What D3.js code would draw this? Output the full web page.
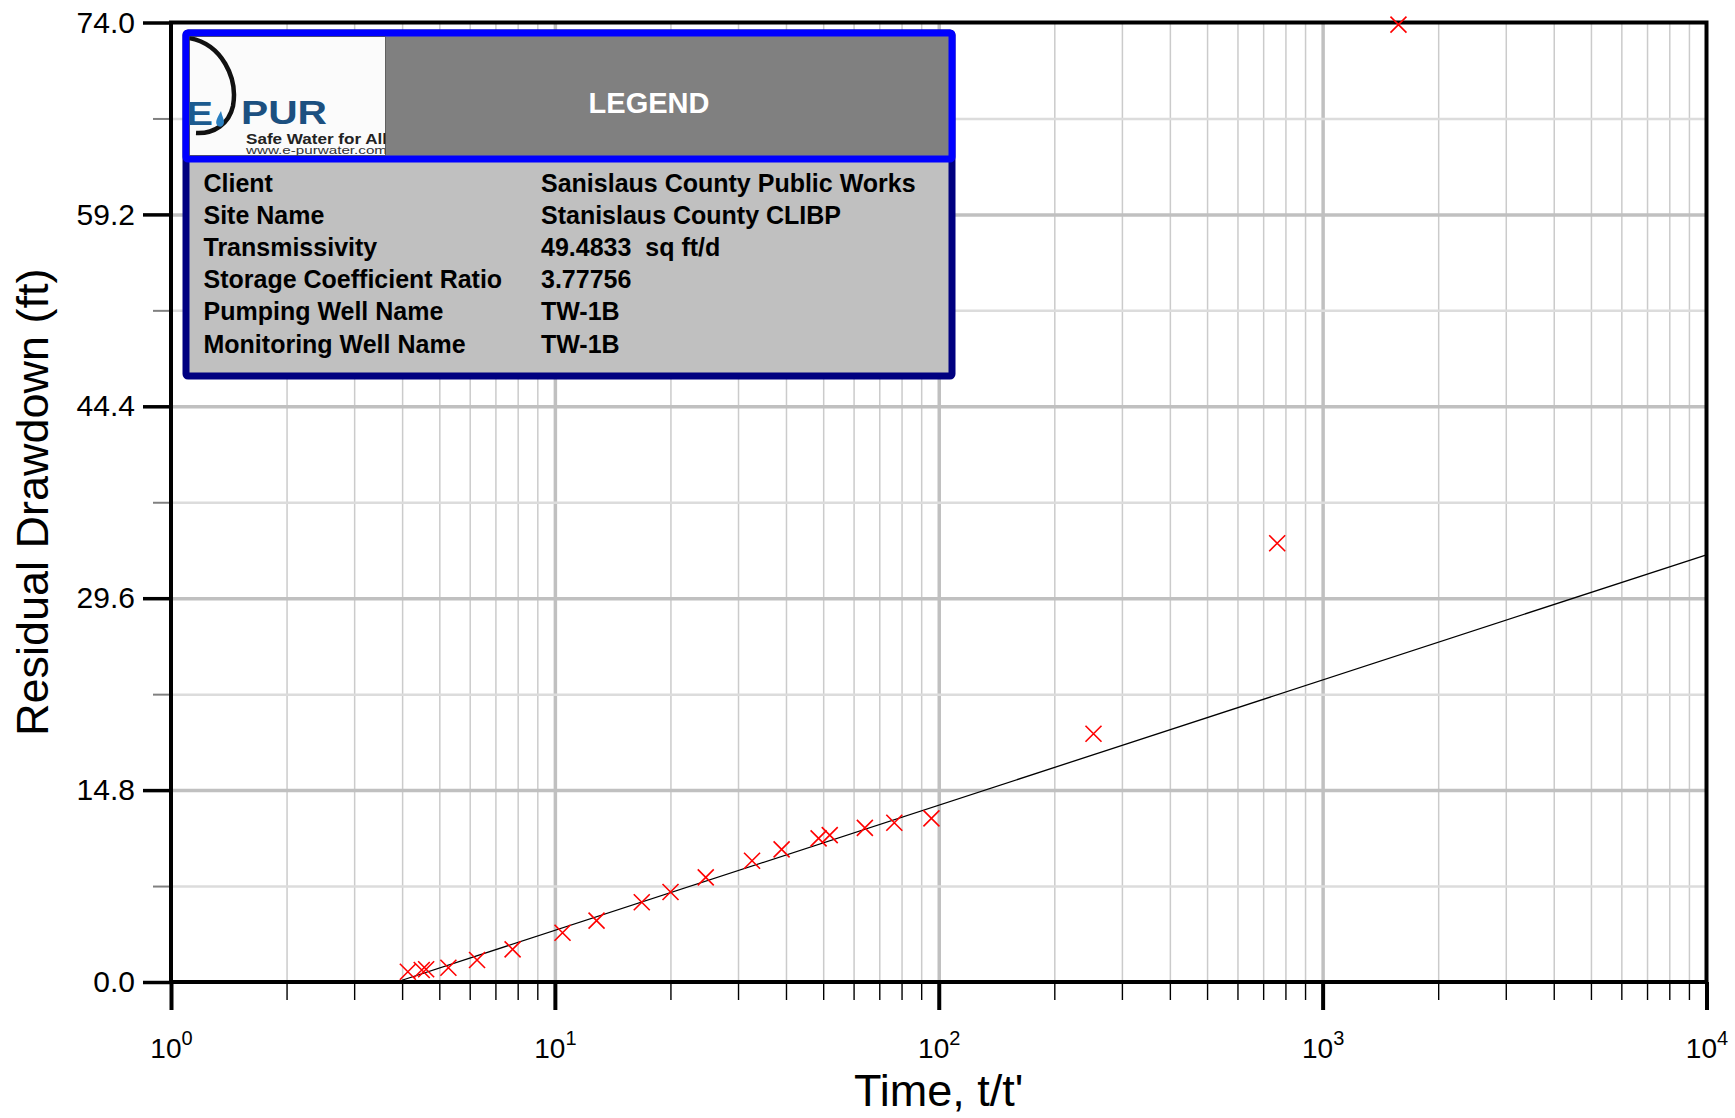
<!DOCTYPE html>
<html>
<head>
<meta charset="utf-8">
<script src="https://cdnjs.cloudflare.com/ajax/libs/d3/7.8.5/d3.min.js"></script>
<style>
body { margin: 0; background: #fff; }
text { font-family: "Liberation Sans", Arial, sans-serif; }
</style>
</head>
<body>
<div id="chart"></div>
<script>
// recovery data
var timeRatio = [4.14, 4.50, 4.62, 5.28, 6.27, 7.76, 10.47, 12.84, 16.84, 20.01, 24.72,
    32.63, 38.96, 48.64, 52.0, 64.2, 76.6, 95.7, 253, 761.5, 1576];
var residualDrawdown = [0.79, 0.93, 0.98, 1.10, 1.70, 2.52, 3.80, 4.73, 6.15, 6.94, 8.07,
    9.35, 10.23, 11.08, 11.33, 11.89, 12.28, 12.62, 19.15, 33.84, 73.84];

// fitted straight line (Theis recovery)
var fitTime = [3.87, 10000];
var fitDrawdown = [0, 32.95];

var yTicks = [0, 14.8, 29.6, 44.4, 59.2, 74.0];
var yMinorTicks = [7.4, 22.2, 37.0, 51.8, 66.6];
var xDecades = [1, 10, 100, 1000, 10000];
var xExponents = ["0", "1", "2", "3", "4"];

var legendLabels = ["Client", "Site Name", "Transmissivity", "Storage Coefficient Ratio",
    "Pumping Well Name", "Monitoring Well Name"];
var legendValues = ["Sanislaus County Public Works", "Stanislaus County CLIBP", "49.4833  sq ft/d",
    "3.77756", "TW-1B", "TW-1B"];

var fullWidth = 1735, fullHeight = 1118;
var margin = { top: 22.5, right: 28.5, bottom: 136, left: 171 };
var width = fullWidth - margin.left - margin.right;
var height = fullHeight - margin.top - margin.bottom;

var xMinorTicks = [];
xDecades.slice(0, -1).forEach(function (d) {
    for (var k = 2; k < 10; k++) xMinorTicks.push(d * k);
});

var x = d3.scaleLog().domain([1, 10000]).range([0, width]);
var y = d3.scaleLinear().domain([0, 74]).range([height, 0]);

var root = d3.select("#chart")
    .append("svg")
    .attr("width", fullWidth)
    .attr("height", fullHeight);

var svg = root.append("g")
    .attr("transform", "translate(" + margin.left + "," + margin.top + ")");

// grid
function grid(axis, values, size, color, w) {
    var g = svg.append("g")
        .call(axis.tickValues(values).tickSize(size).tickFormat(""));
    g.select(".domain").remove();
    g.selectAll("line").attr("stroke", color).attr("stroke-width", w);
    return g;
}
grid(d3.axisBottom(x), xMinorTicks, -height, "#cbcbcb", 1.5)
    .attr("transform", "translate(0," + height + ")");
grid(d3.axisBottom(x), xDecades.slice(1, -1), -height, "#c0c0c0", 3.5)
    .attr("transform", "translate(0," + height + ")");
grid(d3.axisLeft(y), yMinorTicks, -width, "#dcdcdc", 2.5);
grid(d3.axisLeft(y), yTicks.slice(1, -1), -width, "#c0c0c0", 3.5);

// outward ticks
var xMinorAxis = svg.append("g")
    .attr("transform", "translate(0," + height + ")")
    .call(d3.axisBottom(x).tickValues(xMinorTicks).tickSize(18).tickFormat(""));
xMinorAxis.select(".domain").remove();
xMinorAxis.selectAll("line").attr("stroke", "#000").attr("stroke-width", 1.4);

var xMajorAxis = svg.append("g")
    .attr("transform", "translate(0," + height + ")")
    .call(d3.axisBottom(x).tickValues(xDecades).tickSize(28).tickFormat(""));
xMajorAxis.select(".domain").remove();
xMajorAxis.selectAll("line").attr("stroke", "#000").attr("stroke-width", 4);

xMajorAxis.selectAll(".tick").append("text")
    .attr("y", 76)
    .attr("fill", "#000")
    .attr("text-anchor", "middle")
    .style("font-size", "28px")
    .each(function (d, i) {
        var t = d3.select(this);
        t.append("tspan").text("10");
        t.append("tspan").attr("dy", -13).style("font-size", "20px").text(xExponents[i]);
    });

var yMinorAxis = svg.append("g")
    .call(d3.axisLeft(y).tickValues(yMinorTicks).tickSize(18).tickFormat(""));
yMinorAxis.select(".domain").remove();
yMinorAxis.selectAll("line").attr("stroke", "#808080").attr("stroke-width", 2);

var yAxis = svg.append("g")
    .call(d3.axisLeft(y).tickValues(yTicks).tickSize(28).tickPadding(8).tickFormat(d3.format(".1f")));
yAxis.select(".domain").remove();
yAxis.selectAll("line").attr("stroke", "#000").attr("stroke-width", 3.5);
yAxis.selectAll("text")
    .attr("fill", "#000")
    .style("font-size", "30px")
    .style("font-family", "'Liberation Sans', Arial, sans-serif");

// frame
svg.append("rect")
    .attr("width", width)
    .attr("height", height)
    .attr("fill", "none")
    .attr("stroke", "#000")
    .attr("stroke-width", 4);

// axis titles
svg.append("text")
    .attr("x", width / 2)
    .attr("y", height + 124)
    .attr("text-anchor", "middle")
    .style("font-size", "45px")
    .text("Time, t/t'");
svg.append("text")
    .attr("transform", "translate(" + (-margin.left + 48) + "," + height / 2 + ") rotate(-90)")
    .attr("text-anchor", "middle")
    .style("font-size", "45px")
    .text("Residual Drawdown (ft)");

// fitted line
var line = d3.line()
    .x(function (d, i) { return x(fitTime[i]); })
    .y(function (d) { return y(d); });
svg.append("path")
    .datum(fitDrawdown)
    .attr("d", line)
    .attr("fill", "none")
    .attr("stroke", "#000")
    .attr("stroke-width", 1.3);

// observed points
var s = 8;
svg.append("g")
    .selectAll("path")
    .data(residualDrawdown)
    .join("path")
    .attr("transform", function (d, i) { return "translate(" + x(timeRatio[i]) + "," + y(d) + ")"; })
    .attr("d", "M" + -s + "," + -s + "L" + s + "," + s + "M" + -s + "," + s + "L" + s + "," + -s)
    .attr("stroke", "#ff0000")
    .attr("stroke-width", 1.6)
    .attr("fill", "none");

// legend box
var lg = root.append("g");
lg.append("rect")
    .attr("x", 186).attr("y", 33)
    .attr("width", 766).attr("height", 343)
    .attr("rx", 2)
    .attr("fill", "#c0c0c0")
    .attr("stroke", "#000080")
    .attr("stroke-width", 7);
lg.append("rect")
    .attr("x", 186).attr("y", 33)
    .attr("width", 766).attr("height", 126)
    .attr("rx", 2)
    .attr("fill", "#808080")
    .attr("stroke", "#0000ff")
    .attr("stroke-width", 7);

// logo
root.append("defs").append("clipPath").attr("id", "logoClip")
    .append("rect").attr("x", 189.5).attr("y", 36.5).attr("width", 196).attr("height", 119);
var logo = lg.append("g").attr("clip-path", "url(#logoClip)");
logo.append("rect")
    .attr("x", 189.5).attr("y", 36.5).attr("width", 196).attr("height", 119)
    .attr("fill", "#fbfbfb")
    .attr("stroke", "#222")
    .attr("stroke-width", 1);
logo.append("path")
    .attr("d", "M189,38 C222,44 238,78 233,106 C229,124 214,134 196,133")
    .attr("fill", "none")
    .attr("stroke", "#111")
    .attr("stroke-width", 4.5);
logo.append("text")
    .attr("x", 186).attr("y", 125)
    .attr("fill", "#1d5b8f")
    .attr("textLength", 27).attr("lengthAdjust", "spacingAndGlyphs")
    .style("font-size", "34px").style("font-weight", "bold")
    .text("E");
logo.append("path")
    .attr("d", "M221,111 C217,118 215,122 217,125 C219,128 224,127 224,122 C224,119 222,116 221,111 Z")
    .attr("fill", "#2a7fc0");
logo.append("text")
    .attr("x", 241).attr("y", 124)
    .attr("fill", "#1c5080")
    .attr("textLength", 86).attr("lengthAdjust", "spacingAndGlyphs")
    .style("font-size", "33px").style("font-weight", "bold")
    .text("PUR");
logo.append("text")
    .attr("x", 246).attr("y", 144)
    .attr("fill", "#222")
    .attr("textLength", 141).attr("lengthAdjust", "spacingAndGlyphs")
    .style("font-size", "14px").style("font-weight", "bold")
    .text("Safe Water for All");
logo.append("text")
    .attr("x", 246).attr("y", 154)
    .attr("fill", "#333")
    .attr("textLength", 141).attr("lengthAdjust", "spacingAndGlyphs")
    .style("font-size", "11px")
    .text("www.e-purwater.com");

lg.append("text")
    .attr("x", 649).attr("y", 113)
    .attr("text-anchor", "middle")
    .attr("fill", "#fff")
    .style("font-size", "29px").style("font-weight", "bold")
    .text("LEGEND");

var rows = lg.selectAll(".row")
    .data(legendLabels)
    .join("g")
    .attr("class", "row")
    .attr("transform", function (d, i) { return "translate(0," + (192 + i * 32.1) + ")"; });
rows.append("text")
    .attr("x", 203.5)
    .style("font-size", "25px").style("font-weight", "bold")
    .text(function (d) { return d; });
rows.append("text")
    .attr("x", 541)
    .style("font-size", "25px").style("font-weight", "bold")
    .style("white-space", "pre")
    .attr("xml:space", "preserve")
    .text(function (d, i) { return legendValues[i]; });
</script>
</body>
</html>
